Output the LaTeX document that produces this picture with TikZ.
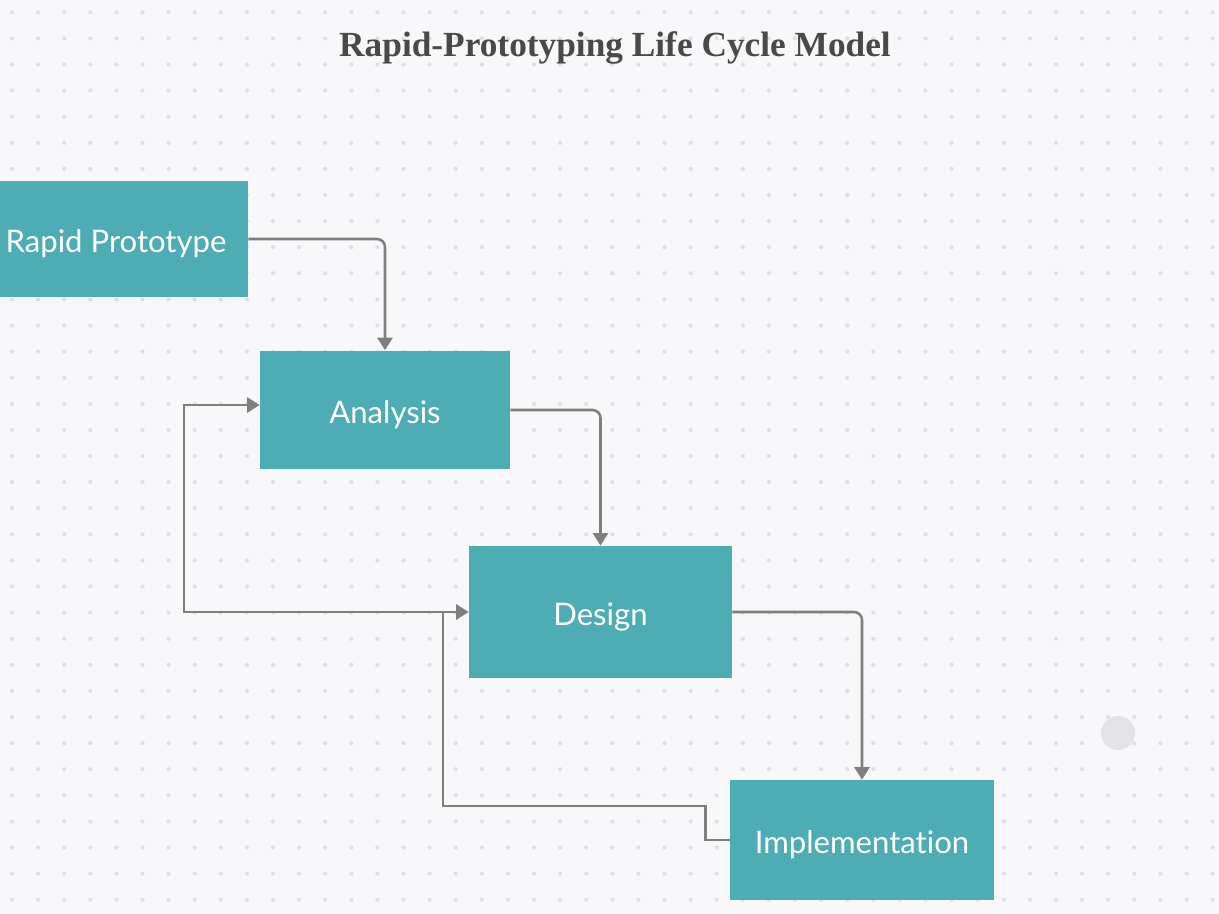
\documentclass[tikz,border=0pt]{standalone}
\usepackage{fontspec}
\setmainfont{Lato}[Ligatures=NoCommon]
\newfontfamily\titlefont{Liberation Serif}
\usepackage{xcolor}
\usetikzlibrary{arrows.meta,positioning,backgrounds,calc}
\definecolor{pbg}{HTML}{F8F8FA}
\definecolor{pdot}{HTML}{DFDFE5}
\definecolor{pteal}{HTML}{4EACB4}
\definecolor{pline}{HTML}{7F7F7F}
\definecolor{ptitle}{HTML}{494949}
\definecolor{pspot}{HTML}{E3E3E6}

\begin{document}
\begin{tikzpicture}[x=0.02cm,y=-0.02cm,
    phase/.style={fill=pteal,text=white,inner sep=0pt,
      text height=14.8pt,text depth=0pt,
      font=\fontsize{17.7}{21}\selectfont},
    flow/.style={-{Triangle[length=2.5mm,width=3mm]},pline,line width=1.45pt,
      rounded corners=1.6mm},
    back/.style={-{Triangle[length=2.5mm,width=3mm]},pline,line width=1.45pt}]
      % Canvas
      \fill[pbg] (0,0) rectangle (1219,913);
      \useasboundingbox (0,0) rectangle (1219,913);
      \foreach \i in {0,...,46}
        \foreach \j in {0,...,34}
          \fill[pdot] (12+26.1*\i,12.3+26.1*\j) circle[radius=1.2pt];
      \fill[pspot] (1118,733) circle[radius=0.34cm];

      % Title
      \node[text=ptitle,font=\titlefont\bfseries\fontsize{20.1}{24}\selectfont]
        (title) at (615,48) {Rapid-Prototyping Life Cycle Model};

      % Phases
      \node[phase,minimum width=5.28cm,minimum height=2.34cm]
        (rapid) at (116,239) {Rapid Prototype};
      \node[phase,minimum width=5.0cm,minimum height=2.38cm]
        (analysis) at (385,410) {Analysis};
      \node[phase,minimum width=5.26cm,minimum height=2.64cm]
        (design) at (600.5,612) {Design};
      \node[phase,minimum width=5.28cm,minimum height=2.4cm]
        (impl) at (862,840) {Implementation};

      % Forward flow
      \draw[flow] (rapid.east) -| (analysis.north);
      \draw[flow] (analysis.east) -| (design.north);
      \draw[flow] (design.east) -| (impl.north);

      % Feedback from implementation
      \draw[back] (impl.west) -- ++(-24,0) |- (443,806) |- (design.west);
      \draw[back] (impl.west) -- ++(-24,0) |- (443,806) -- (443,612)
        -- (184,612) |- ([yshift=1mm]analysis.west);
\end{tikzpicture}
\end{document}
